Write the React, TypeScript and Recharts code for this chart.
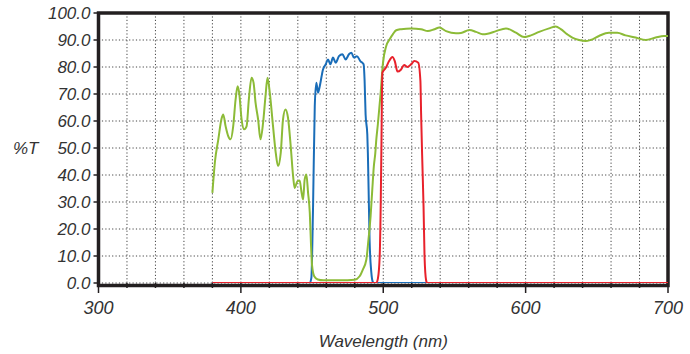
import { LineChart, Line, XAxis, YAxis, CartesianGrid, Label, ReferenceArea } from "recharts"

// green filter (long pass with a noisy blue shoulder)
const greenWl = [
    380, 381.8, 384.1, 386.5, 387.6, 389.3, 391.1, 392.8, 394.6, 396.3, 397.7, 398.8, 400.5, 402.3, 404, 405.6,
    407.5, 408.9, 410.3, 412.1, 413.8, 415.6, 417.3, 418.7, 420.3, 422.6, 424.5, 426.1, 428, 429.6, 431.3, 433.1,
    435, 436.7, 437.8, 439.7, 441.3, 442.5, 443.7, 444.8, 446, 447.2, 448.4, 449.2, 450, 451.5, 454, 458, 470,
    479.9, 483.4, 485.6, 488.1, 489.6, 491.1, 492.3, 493.4, 494.4, 495.1, 496.2, 498.2, 499.7, 502.1, 504.4,
    506.7, 509.1, 512.6, 519.6, 526.6, 531.3, 536, 539.4, 544.1, 551.1, 554.6, 560.5, 565.2, 569.8, 573.3,
    579.2, 586.2, 593.2, 599, 603.7, 609.5, 616.5, 621.2, 624.7, 629.3, 632.8, 637.5, 642.2, 645.6, 651.5,
    658.5, 664.4, 670.2, 677.3, 684.3, 691.3, 697.1, 700,
]
const greenT = [
    33.4, 45, 53, 61, 62.4, 58, 54.4, 53.2, 58, 68, 72.9, 70.5, 60.6, 56.9, 58, 68,
    76, 74.2, 66.8, 60.6, 53.2, 59.3, 69.2, 76, 70.5, 58, 48.2, 43.3, 48.2, 60.6, 64.3, 61.2,
    50.7, 39.5, 35.2, 37.7, 38, 34, 30.9, 38.3, 40.2, 33.4, 26, 15, 6.5, 2.5, 1.3, 1, 1,
    1.2, 2.5, 4.9, 8.6, 16, 24.7, 34.6, 43.3, 48, 53, 58.7, 70.5, 81, 87.8, 90.2,
    92.1, 93.6, 94, 94.3, 94, 93.3, 94, 94.6, 93.3, 92.5, 92.6, 93.7, 93, 92.1, 92.3,
    93.3, 94.3, 92.7, 91.1, 91.7, 93, 94.3, 95, 94, 92.1, 90.9, 90, 89.6, 90, 91.5,
    92.7, 92.7, 91.7, 90.9, 90, 90.9, 91.5, 91.5,
]

// blue band pass
const blueWl = [
    380, 448.4, 449.5, 450.7, 451.9, 453, 454.2, 455.4, 457.7, 459.6, 461.2, 462.9, 464.7, 466.6, 468.9, 471.3,
    473.6, 475.9, 477.6, 479.4, 481.5, 483.9, 486.2, 486.9, 487.6, 488.8, 489.2, 489.7, 490.4, 491.6, 492.6,
    493.5, 700,
]
const blueT = [
    0, 0, 1.9, 28.4, 65.5, 74.2, 70.5, 72.9, 79.1, 81, 82.8, 81, 83.5, 81.6, 84, 84.7,
    82.8, 84.7, 85.3, 83.5, 84, 82.2, 81, 75, 62.4, 55, 48, 35, 16, 4, 0.5,
    0, 0,
]

// red band pass
const redWl = [
    380, 495.1, 496.3, 497.5, 498.2, 498.7, 499.4, 501.8, 504.1, 506.4, 508.1, 510, 512.4, 514.7, 517, 519.9,
    521.8, 524.6, 526.1, 526.6, 527.3, 528.3, 529, 530.1, 530.8, 700,
]
const redT = [
    0, 0, 1.8, 9.9, 28.4, 50, 77.9, 79.7, 82.2, 83.7, 82.2, 78.3, 79, 80.7, 80, 81.2,
    82.2, 81.6, 74.8, 62.4, 47.6, 28.4, 9.9, 1, 0, 0,
]

const xTicks = [300, 320, 340, 360, 380, 400, 420, 440, 460, 480, 500, 520, 540, 560, 580, 600, 620, 640, 660, 680, 700]
const yTicks = [0, 10, 20, 30, 40, 50, 60, 70, 80, 90, 100]

const toPoints = (wl: number[], t: number[]) => wl.map((w, i) => ({ wl: w, t: t[i] }))

const greenData = toPoints(greenWl, greenT)
const blueData = toPoints(blueWl, blueT)
const redData = toPoints(redWl, redT)

const INK = "#231f20"
const TEXT = "#333333"

function XTick(props: any) {
    const { x, y, payload } = props
    const major = payload.value % 100 === 0
    return (
        <g>
            <line x1={x} x2={x} y1={y} y2={y + (major ? 10 : 5)} stroke={INK} strokeWidth={1.5} />
            {major && (
                <text x={x} y={y + 31} textAnchor="middle" fontSize={18} fontStyle="italic" fill={TEXT}>
                    {payload.value}
                </text>
            )}
        </g>
    )
}

export default function App() {
    return (
        <div style={{ position: "absolute", left: 0, top: 0, width: 690, height: 354, background: "#fff", fontFamily: "'Liberation Sans', Arial, sans-serif" }}>
            <LineChart width={690} height={354} margin={{ top: 13, right: 22, bottom: 0, left: 0 }}>
                <CartesianGrid stroke="#444" strokeDasharray="1.2 2.2" strokeWidth={1} />
                <XAxis
                    dataKey="wl"
                    type="number"
                    domain={[300, 700]}
                    allowDataOverflow
                    ticks={xTicks}
                    interval={0}
                    height={71}
                    tickLine={false}
                    tickSize={0}
                    tickMargin={0}
                    tick={<XTick />}
                    axisLine={false}
                >
                    <Label value="Wavelength (nm)" position="insideBottom" offset={7} style={{ fontSize: 17, fontStyle: "italic", fill: TEXT }} />
                </XAxis>
                <YAxis
                    type="number"
                    domain={[0, 100]}
                    allowDataOverflow
                    ticks={yTicks}
                    interval={0}
                    width={98.5}
                    tickSize={5}
                    tickMargin={3}
                    tickFormatter={(v: number) => v.toFixed(1)}
                    tick={{ fontSize: 17, fontStyle: "italic", fill: TEXT }}
                    tickLine={{ stroke: INK, strokeWidth: 1.5 }}
                    axisLine={false}
                >
                    <Label value="%T" position="insideLeft" offset={13} style={{ fontSize: 17, fontStyle: "italic", fill: TEXT }} />
                </YAxis>
                <ReferenceArea x1={300} x2={700} y1={-0.9} y2={100} ifOverflow="visible" fill="none" fillOpacity={0} stroke={INK} strokeWidth={3.5} />
                <Line data={blueData} dataKey="t" type="monotone" stroke="#1a6db8" strokeWidth={2} dot={false} isAnimationActive={false} />
                <Line data={greenData} dataKey="t" type="monotone" stroke="#8cbb37" strokeWidth={2} dot={false} isAnimationActive={false} />
                <Line data={redData} dataKey="t" type="monotone" stroke="#e8212b" strokeWidth={2} dot={false} isAnimationActive={false} />
            </LineChart>
        </div>
    )
}
